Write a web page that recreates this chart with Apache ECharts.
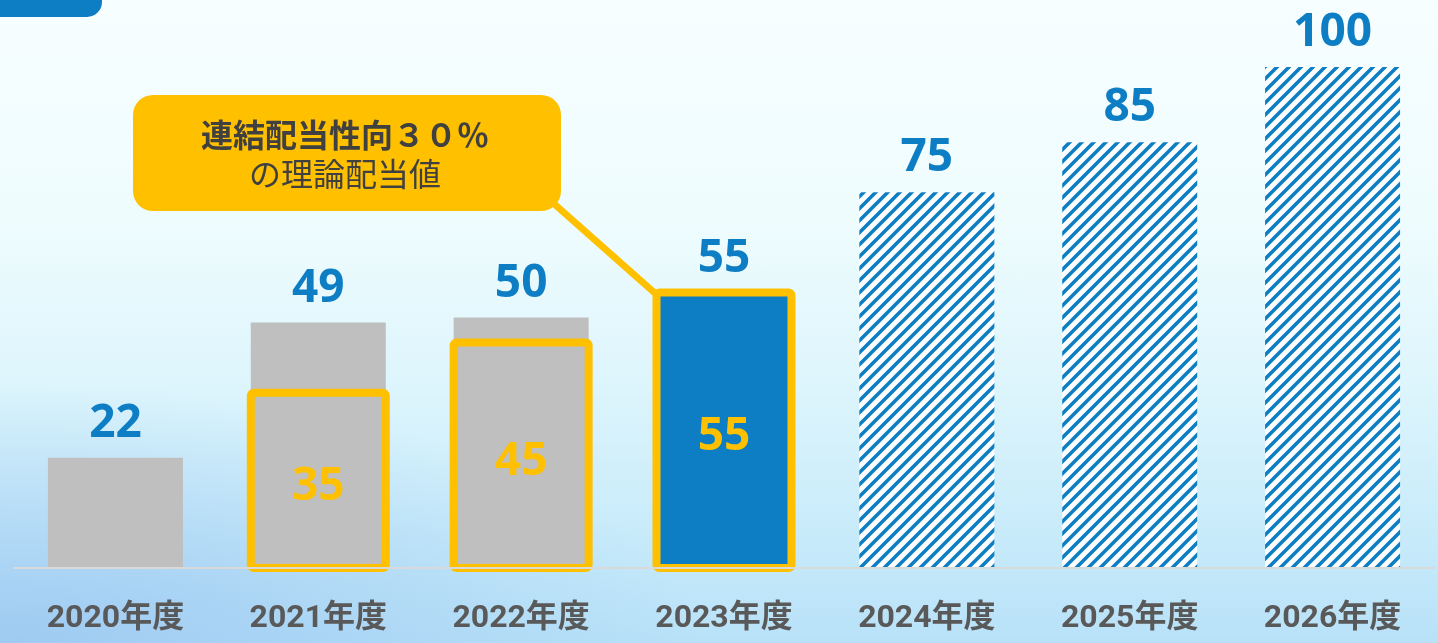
<!DOCTYPE html>
<html>
<head>
<meta charset="utf-8">
<script src="https://cdn.jsdelivr.net/npm/echarts@6.0.0/dist/echarts.min.js"></script>
<style>
html,body{margin:0;padding:0;width:1438px;height:643px;overflow:hidden;}
body{background:
  radial-gradient(ellipse 700px 260px at 0px 643px, rgba(150,195,240,0.75), rgba(150,195,240,0) 100%),
  linear-gradient(to bottom, #F7FEFF 0%, #EEFCFE 35%, #DDF5FC 60%, #C6EAFA 85%, #B8E1F8 100%);}
#chart{width:1438px;height:643px;}
</style>
</head>
<body>
<div id="chart"></div>
<script>
// ---- data ----
const categories = ['2020年度', '2021年度', '2022年度', '2023年度', '2024年度', '2025年度', '2026年度'];
const dividendValues = [22, 49, 50, 55, 75, 85, 100];
const theoreticalValues = [null, 35, 45, 55, null, null, null];
const calloutLine1 = '連結配当性向３０％';
const calloutLine2 = 'の理論配当値';

// ---- styles ----
const BLUE = '#0E7EC4';
const GRAY = '#BFBFBF';
const YELLOW = '#FFC000';
const TEXT = '#595959';
const BAR_W = 135;
const NUM_FONT = '"Open Sans", "Noto Sans", sans-serif';

function makeHatch() {
  const s = 12;
  const c = document.createElement('canvas');
  c.width = s; c.height = s;
  const g = c.getContext('2d');
  g.fillStyle = '#FFFFFF';
  g.fillRect(0, 0, s, s);
  g.strokeStyle = BLUE;
  g.lineWidth = 3.6;
  g.beginPath();
  g.moveTo(-4, s + 4); g.lineTo(s + 4, -4);
  g.moveTo(-4, 4); g.lineTo(4, -4);
  g.moveTo(s - 4, s + 4); g.lineTo(s + 4, s - 4);
  g.stroke();
  return c;
}
const hatch = { image: makeHatch(), repeat: 'repeat' };

function styleFor(i) {
  if (i <= 2) return GRAY;
  if (i === 3) return BLUE;
  return hatch;
}

const theoreticalData = theoreticalValues
  .map((v, i) => [i, v])
  .filter(d => d[1] != null);

const chart = echarts.init(document.getElementById('chart'), null, { renderer: 'canvas' });
chart.setOption({
  backgroundColor: 'transparent',
  animation: false,
  grid: { left: 14, right: 4, top: 67, bottom: 75 },
  xAxis: {
    type: 'category',
    data: categories,
    z: 10,
    axisLine: { show: true, lineStyle: { color: '#D9D9D9', width: 2 } },
    axisTick: { show: false },
    axisLabel: {
      color: TEXT, fontSize: 32, fontWeight: 'bold', margin: 35,
      fontFamily: 'Roboto, "Noto Sans CJK JP", sans-serif'
    }
  },
  yAxis: { type: 'value', min: 0, max: 100, show: false, splitLine: { show: false } },
  series: [
    {
      name: '配当',
      type: 'bar',
      barWidth: BAR_W,
      data: dividendValues.map((v, i) => ({ value: v, itemStyle: { color: styleFor(i) } })),
      label: {
        show: true, position: 'top', distance: 11,
        color: BLUE, fontSize: 46, fontWeight: 'bold',
        fontFamily: NUM_FONT
      }
    },
    {
      name: '理論配当値',
      type: 'custom',
      z: 3,
      encode: { x: 0, y: 1 },
      data: theoreticalData,
      renderItem: function (params, api) {
        const v = api.value(1);
        const topPt = api.coord([api.value(0), v]);
        const basePt = api.coord([api.value(0), 0]);
        const x = topPt[0] - BAR_W / 2;
        return {
          type: 'group',
          children: [
            {
              type: 'rect',
              shape: { x: x, y: topPt[1], width: BAR_W, height: basePt[1] - topPt[1], r: 3 },
              style: { fill: 'none', stroke: YELLOW, lineWidth: 8 }
            },
            {
              type: 'text',
              style: {
                text: String(v), x: topPt[0], y: (topPt[1] + basePt[1]) / 2 + 7,
                align: 'center', verticalAlign: 'middle',
                fill: YELLOW, font: 'bold 46px ' + NUM_FONT
              }
            }
          ]
        };
      }
    }
  ],
  graphic: [
    { type: 'rect', left: -20, top: -20, shape: { width: 122, height: 37, r: 15 }, style: { fill: BLUE } },
    { type: 'line', z: 1, shape: { x1: 552, y1: 202, x2: 657, y2: 295 }, style: { stroke: YELLOW, lineWidth: 7 } },
    { type: 'rect', z: 2, shape: { x: 133, y: 95, width: 428, height: 116, r: 20 }, style: { fill: YELLOW } },
    { type: 'text', z: 3, x: 345, y: 135, style: { text: calloutLine1, fill: '#404040', font: 'bold 32px "Noto Sans CJK JP", sans-serif', align: 'center', verticalAlign: 'middle' } },
    { type: 'text', z: 3, x: 345, y: 174, style: { text: calloutLine2, fill: '#404040', font: '32px "Noto Sans CJK JP", sans-serif', align: 'center', verticalAlign: 'middle' } }
  ]
});
</script>
</body>
</html>
